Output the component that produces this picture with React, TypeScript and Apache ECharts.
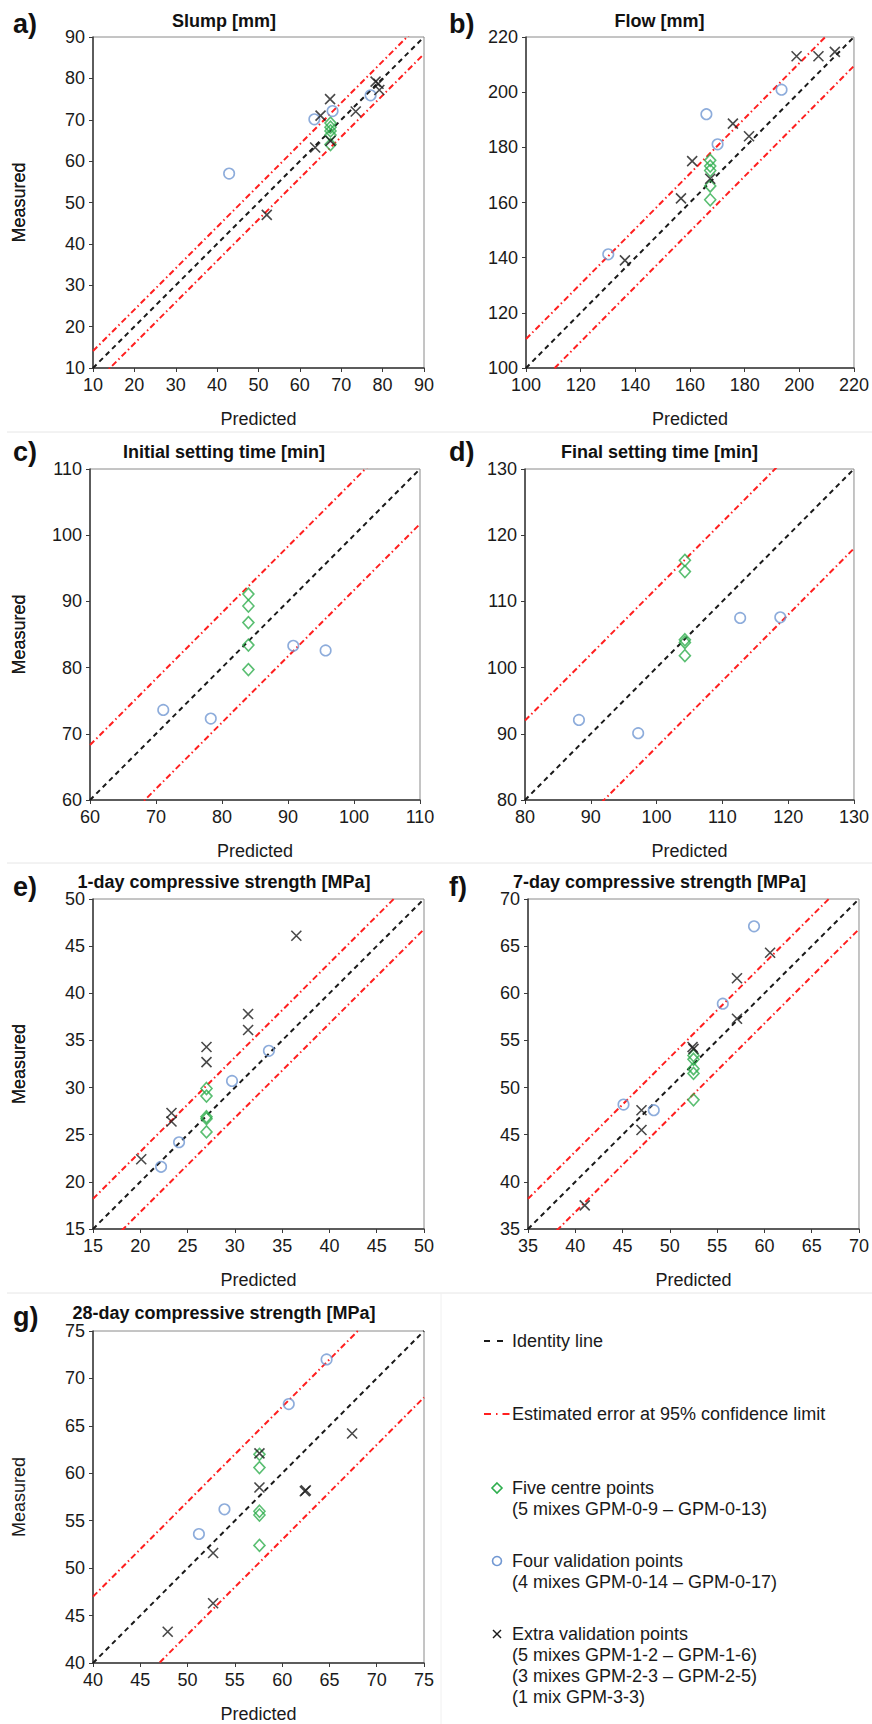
import React, { useEffect, useRef } from "react";
import * as echarts from "echarts";

const FONT = "'Liberation Sans', Arial, Helvetica, sans-serif";

// ---------- data: [predicted, measured] ----------
// a) Slump [mm]
const slumpCentre = [[67.4, 69.2], [67.4, 68.2], [67.4, 67.3], [67.4, 66.3], [67.4, 64.0]];
const slumpValidation = [[42.9, 57.0], [63.5, 70.1], [67.9, 72.1], [77.1, 75.9]];
const slumpExtra = [[52.0, 47.0], [63.7, 63.3], [65.0, 71.0], [67.3, 75.0], [67.4, 64.9], [73.5, 72.0], [78.3, 79.2], [79.0, 78.7], [79.2, 77.2]];

// b) Flow [mm]
const flowCentre = [[167.4, 175.3], [167.4, 173.2], [167.4, 171.6], [167.4, 166.0], [167.4, 161.0]];
const flowValidation = [[130.1, 141.2], [166.0, 192.0], [170.1, 181.1], [193.5, 200.9]];
const flowExtra = [[136.2, 139.0], [156.7, 161.5], [160.8, 175.0], [167.4, 168.6], [175.7, 188.6], [181.6, 184.0], [199.0, 213.0], [207.0, 213.0], [213.0, 214.6]];

// c) Initial setting time [min]
const initialCentre = [[84.0, 91.1], [84.0, 89.3], [84.0, 86.8], [84.0, 83.4], [84.0, 79.7]];
const initialValidation = [[71.1, 73.6], [78.3, 72.3], [90.8, 83.3], [95.7, 82.6]];
const initialExtra: number[][] = [];

// d) Final setting time [min]
const finalCentre = [[104.3, 116.2], [104.3, 114.5], [104.3, 104.2], [104.3, 103.8], [104.3, 101.8]];
const finalValidation = [[88.2, 92.1], [97.2, 90.1], [112.7, 107.5], [118.8, 107.6]];
const finalExtra: number[][] = [];

// e) 1-day compressive strength [MPa]
const day1Centre = [[27.0, 29.9], [27.0, 29.1], [27.0, 26.9], [27.0, 26.7], [27.0, 25.3]];
const day1Validation = [[22.2, 21.6], [24.1, 24.2], [29.7, 30.7], [33.6, 33.9]];
const day1Extra = [[20.1, 22.4], [23.3, 27.3], [23.3, 26.4], [27.0, 34.3], [27.0, 32.7], [31.4, 37.8], [31.4, 36.1], [36.5, 46.1]];

// f) 7-day compressive strength [MPa]
const day7Centre = [[52.5, 53.4], [52.5, 53.0], [52.5, 52.0], [52.5, 51.5], [52.5, 48.7]];
const day7Validation = [[45.1, 48.2], [48.3, 47.6], [55.6, 58.9], [58.9, 67.1]];
const day7Extra = [[41.0, 37.5], [47.0, 47.6], [47.0, 45.5], [52.5, 54.1], [52.4, 54.3], [57.1, 57.3], [57.1, 61.6], [60.6, 64.3]];

// g) 28-day compressive strength [MPa]
const day28Centre = [[57.6, 62.0], [57.6, 60.6], [57.6, 56.0], [57.6, 55.6], [57.6, 52.4]];
const day28Validation = [[51.2, 53.6], [53.9, 56.2], [60.7, 67.3], [64.7, 72.0]];
const day28Extra = [[47.9, 43.3], [52.7, 51.6], [52.7, 46.3], [57.6, 62.1], [57.6, 58.5], [62.4, 58.1], [62.5, 58.2], [67.4, 64.2]];

const panelTitles = [
  "Slump [mm]",
  "Flow [mm]",
  "Initial setting time [min]",
  "Final setting time [min]",
  "1-day compressive strength [MPa]",
  "7-day compressive strength [MPa]",
  "28-day compressive strength [MPa]",
];
const panelLetters = ["a)", "b)", "c)", "d)", "e)", "f)", "g)"];
const axisMin = [10, 100, 60, 80, 15, 35, 40];
const axisMax = [90, 220, 110, 130, 50, 70, 75];
const axisStep = [10, 20, 10, 10, 5, 5, 5];
const errorLimit = [4.1, 10.5, 8.3, 12.0, 3.2, 3.2, 7.0];

const centreSets = [slumpCentre, flowCentre, initialCentre, finalCentre, day1Centre, day7Centre, day28Centre];
const validationSets = [slumpValidation, flowValidation, initialValidation, finalValidation, day1Validation, day7Validation, day28Validation];
const extraSets = [slumpExtra, flowExtra, initialExtra, finalExtra, day1Extra, day7Extra, day28Extra];

const legendLabels = [
  ["Identity line"],
  ["Estimated error at 95% confidence limit"],
  ["Five centre points", "(5 mixes GPM-0-9 \u2013 GPM-0-13)"],
  ["Four validation points", "(4 mixes GPM-0-14 \u2013 GPM-0-17)"],
  ["Extra validation points", "(5 mixes GPM-1-2 \u2013 GPM-1-6)", "(3 mixes GPM-2-3 \u2013 GPM-2-5)", "(1 mix GPM-3-3)"],
];

// ---------- layout ----------
const GRIDS = [
  { left: 93, top: 37, width: 331, height: 331 },
  { left: 526, top: 37, width: 329, height: 331 },
  { left: 90, top: 469, width: 330, height: 331 },
  { left: 525, top: 469, width: 330, height: 331 },
  { left: 93, top: 899, width: 331, height: 330 },
  { left: 528, top: 899, width: 331, height: 330 },
  { left: 93, top: 1331, width: 331, height: 332 },
];
const titlePos = [[224, 21], [659.5, 21], [224, 452], [659.5, 452], [224, 882], [659.5, 882], [224, 1313]];
const letterPos = [[13, 24], [449, 24], [13, 452], [449, 452], [13, 887], [449, 887], [13, 1317]];

const GREEN = "#2fae4e";
const BLUE = "#7097d2";
const RED = "#ff1f1f";
const BLACK = "#1a1a1a";
const CROSS = "path://M0,0L10,10M0,10L10,0";

function buildOption() {
  const series: any[] = [];
  GRIDS.forEach((_, i) => {
    const lo = axisMin[i];
    const hi = axisMax[i];
    const e = errorLimit[i];
    const common = { xAxisIndex: i, yAxisIndex: i, silent: true, clip: true, symbol: "none" };
    series.push({
      ...common,
      type: "line",
      name: "Identity line",
      data: [[lo, lo], [hi, hi]],
      lineStyle: { color: BLACK, width: 2, type: [5, 4] },
      z: 2,
    });
    series.push({
      ...common,
      type: "line",
      name: "Estimated error at 95% confidence limit",
      data: [[lo, lo + e], [hi, hi + e]],
      lineStyle: { color: RED, width: 2, type: [6, 3, 1.5, 3] },
      z: 2,
    });
    series.push({
      ...common,
      type: "line",
      name: "Estimated error at 95% confidence limit",
      data: [[lo, lo - e], [hi, hi - e]],
      lineStyle: { color: RED, width: 2, type: [6, 3, 1.5, 3] },
      z: 2,
    });
    series.push({
      type: "scatter",
      name: "Five centre points",
      xAxisIndex: i,
      yAxisIndex: i,
      silent: true,
      data: centreSets[i],
      symbol: "diamond",
      symbolSize: [11, 12],
      itemStyle: { color: "rgba(255,255,255,0)", borderColor: GREEN, borderWidth: 1.6 },
      z: 3,
    });
    series.push({
      type: "scatter",
      name: "Four validation points",
      xAxisIndex: i,
      yAxisIndex: i,
      silent: true,
      data: validationSets[i],
      symbol: "circle",
      symbolSize: 10.5,
      itemStyle: { color: "rgba(255,255,255,0)", borderColor: BLUE, borderWidth: 1.6 },
      z: 3,
    });
    if (extraSets[i].length) {
      series.push({
        type: "scatter",
        name: "Extra validation points",
        xAxisIndex: i,
        yAxisIndex: i,
        silent: true,
        data: extraSets[i],
        symbol: CROSS,
        symbolSize: 10,
        itemStyle: { color: "rgba(255,255,255,0)", borderColor: BLACK, borderWidth: 1.6 },
        z: 4,
      });
    }
  });

  const graphic: any[] = [];
  // faint panel separators
  const sep = { stroke: "#e6e6e6", lineWidth: 1 };
  graphic.push({ type: "line", silent: true, shape: { x1: 7, y1: 432, x2: 872, y2: 432 }, style: sep });
  graphic.push({ type: "line", silent: true, shape: { x1: 7, y1: 863, x2: 872, y2: 863 }, style: sep });
  graphic.push({ type: "line", silent: true, shape: { x1: 7, y1: 1293, x2: 872, y2: 1293 }, style: sep });
  graphic.push({ type: "line", silent: true, shape: { x1: 441, y1: 1293, x2: 441, y2: 1724 }, style: { stroke: "#f0f0f0", lineWidth: 1 } });

  GRIDS.forEach((_, i) => {
    graphic.push({
      type: "text",
      silent: true,
      x: titlePos[i][0],
      y: titlePos[i][1],
      style: {
        text: panelTitles[i],
        fontSize: 18,
        fontWeight: "bold",
        fontFamily: FONT,
        fill: "#111",
        align: "center",
        verticalAlign: "middle",
        textAlign: "center",
        textVerticalAlign: "middle",
      },
    });
    graphic.push({
      type: "text",
      silent: true,
      x: letterPos[i][0],
      y: letterPos[i][1],
      style: {
        text: panelLetters[i],
        fontSize: 27,
        fontWeight: "bold",
        fontFamily: FONT,
        fill: "#111",
        align: "left",
        verticalAlign: "middle",
        textAlign: "left",
        textVerticalAlign: "middle",
      },
    });
  });

  // legend
  const LX = 497;
  const TX = 512;
  const legendY = [[1341], [1414], [1488, 1509], [1561, 1582], [1634, 1655, 1676, 1697]];
  graphic.push({
    type: "line",
    silent: true,
    shape: { x1: 484, y1: 1341, x2: 505, y2: 1341 },
    style: { stroke: BLACK, lineWidth: 2, lineDash: [6, 7] },
  });
  graphic.push({
    type: "line",
    silent: true,
    shape: { x1: 484, y1: 1414, x2: 511, y2: 1414 },
    style: { stroke: RED, lineWidth: 2, lineDash: [7, 5, 1.5, 5] },
  });
  graphic.push({
    type: "polygon",
    silent: true,
    shape: { points: [[LX, 1483], [LX + 5, 1488], [LX, 1493], [LX - 5, 1488]] },
    style: { fill: "none", stroke: GREEN, lineWidth: 1.6 },
  });
  graphic.push({
    type: "circle",
    silent: true,
    shape: { cx: LX, cy: 1561, r: 4.5 },
    style: { fill: "none", stroke: BLUE, lineWidth: 1.6 },
  });
  graphic.push({ type: "line", silent: true, shape: { x1: LX - 4, y1: 1630, x2: LX + 4, y2: 1638 }, style: { stroke: BLACK, lineWidth: 1.5 } });
  graphic.push({ type: "line", silent: true, shape: { x1: LX - 4, y1: 1638, x2: LX + 4, y2: 1630 }, style: { stroke: BLACK, lineWidth: 1.5 } });

  legendLabels.forEach((lines, k) => {
    lines.forEach((t, j) => {
      graphic.push({
        type: "text",
        silent: true,
        x: TX,
        y: legendY[k][j],
        style: {
          text: t,
          fontSize: 18,
          fontFamily: FONT,
          fill: "#1a1a1a",
          align: "left",
          verticalAlign: "middle",
          textAlign: "left",
          textVerticalAlign: "middle",
        },
      });
    });
  });

  return {
    animation: false,
    backgroundColor: "#ffffff",
    grid: GRIDS.map((g) => ({ ...g, show: true, borderColor: "#8a8a8a", borderWidth: 1, backgroundColor: "rgba(0,0,0,0)" })),
    xAxis: GRIDS.map((_, i) => ({
      type: "value",
      gridIndex: i,
      min: axisMin[i],
      max: axisMax[i],
      interval: axisStep[i],
      name: "Predicted",
      nameLocation: "middle",
      nameGap: 42,
      nameTextStyle: { fontSize: 18, color: "#1a1a1a", fontFamily: FONT },
      axisLine: { show: true, onZero: false, lineStyle: { color: "#3a3a3a", width: 1.5 } },
      axisTick: { show: true, length: 4, lineStyle: { color: "#3a3a3a", width: 1 } },
      axisLabel: { interval: 0, fontSize: 18, color: "#1a1a1a", margin: 8, fontFamily: FONT, showMinLabel: true, showMaxLabel: true },
      splitLine: { show: false },
    })),
    yAxis: GRIDS.map((g, i) => ({
      type: "value",
      gridIndex: i,
      min: axisMin[i],
      max: axisMax[i],
      interval: axisStep[i],
      name: "Measured",
      nameLocation: "middle",
      nameGap: g.left - 18 - 10,
      nameTextStyle: { fontSize: 18, color: "#1a1a1a", fontFamily: FONT },
      axisLine: { show: true, onZero: false, lineStyle: { color: "#3a3a3a", width: 1.5 } },
      axisTick: { show: true, length: 4, lineStyle: { color: "#3a3a3a", width: 1 } },
      axisLabel: { interval: 0, fontSize: 18, color: "#1a1a1a", margin: 8, fontFamily: FONT, showMinLabel: true, showMaxLabel: true },
      splitLine: { show: false },
    })),
    series,
    graphic,
  };
}

export default function App() {
  const ref = useRef<HTMLDivElement>(null);
  useEffect(() => {
    if (!ref.current) return;
    const chart = echarts.init(ref.current, undefined, { renderer: "svg" });
    chart.setOption(buildOption() as any);
    return () => chart.dispose();
  }, []);
  return (
    <div
      ref={ref}
      style={{ position: "absolute", left: 0, top: 0, width: 872, height: 1724, background: "#fff" }}
    />
  );
}
